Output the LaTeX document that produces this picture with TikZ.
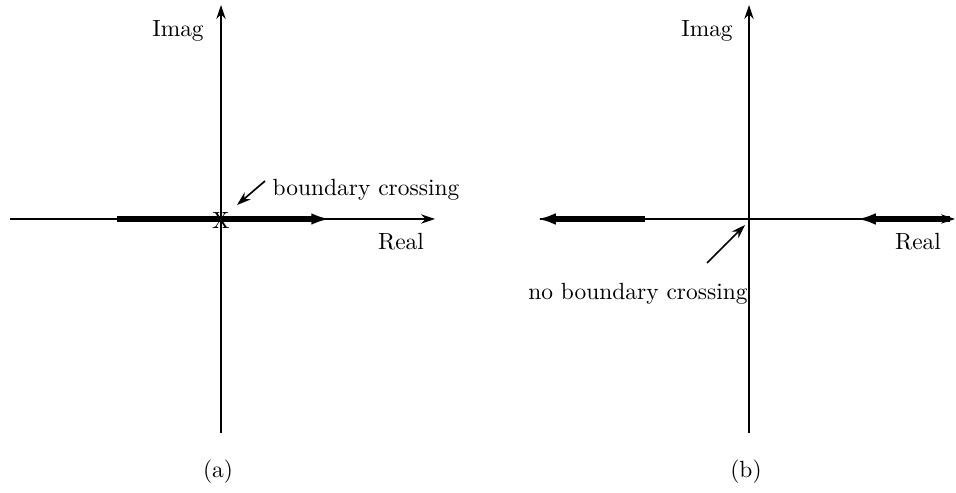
\documentclass[tikz,border=0pt]{standalone}
\usetikzlibrary{arrows.meta}

\tikzset{
    asse/.style={line width=0.7pt, -{Stealth[length=6pt,width=4pt]}},
    ramo/.style={line width=2.6pt, -{Latex[length=8pt,width=5pt]}},
    freccia/.style={line width=0.7pt, -{Stealth[length=6pt,width=4pt]}},
    etichetta/.style={anchor=base, inner sep=0pt}
}

\begin{document}
\begin{tikzpicture}[x=0.015cm, y=-0.015cm]
    \useasboundingbox (0,0) rectangle (956,493);

    % Figura (a): assi
    \coordinate (aO) at (10,219);
    \coordinate (aE) at (435,219);
    \coordinate (aS) at (221,433);
    \coordinate (aN) at (221,5);
    \draw[asse] (aO) -- (aE);
    \draw[asse] (aS) -- (aN);

    % Luogo delle radici che attraversa l'asse immaginario
    \coordinate (aR0) at (117,219);
    \coordinate (aR1) at (330,219);
    \draw[ramo] (aR0) -- (aR1);
    \node[inner sep=0pt] (aX) at (221,221) {X};

    % Etichette (a)
    \node[etichetta] (aImag) at (178,37) {Imag};
    \node[etichetta] (aReal) at (401,250) {Real};
    \node[etichetta] (aBC) at (366,196) {boundary crossing};
    \coordinate (aQ) at (265,181);
    \coordinate (aP) at (237,205);
    \draw[freccia] (aQ) -- (aP);
    \node[etichetta] (aLab) at (218,477) {(a)};

    % Figura (b): assi
    \coordinate (bO) at (540,219);
    \coordinate (bE) at (955,219);
    \coordinate (bS) at (749,433);
    \coordinate (bN) at (749,5);
    \draw[asse] (bO) -- (bE);
    \draw[asse] (bS) -- (bN);

    % Rami che non attraversano l'asse immaginario
    \coordinate (bL0) at (645,219);
    \coordinate (bL1) at (537,219);
    \coordinate (bR0) at (950,219);
    \coordinate (bR1) at (857,219);
    \draw[ramo] (bL0) -- (bL1);
    \draw[ramo] (bR0) -- (bR1);

    % Etichette (b)
    \node[etichetta] (bImag) at (707,37) {Imag};
    \node[etichetta] (bReal) at (918,250) {Real};
    \node[etichetta] (bNBC) at (638,300) {no boundary crossing};
    \coordinate (bQ) at (707,263);
    \coordinate (bP) at (745,225);
    \draw[freccia] (bQ) -- (bP);
    \node[etichetta] (bLab) at (746,477) {(b)};
\end{tikzpicture}
\end{document}
